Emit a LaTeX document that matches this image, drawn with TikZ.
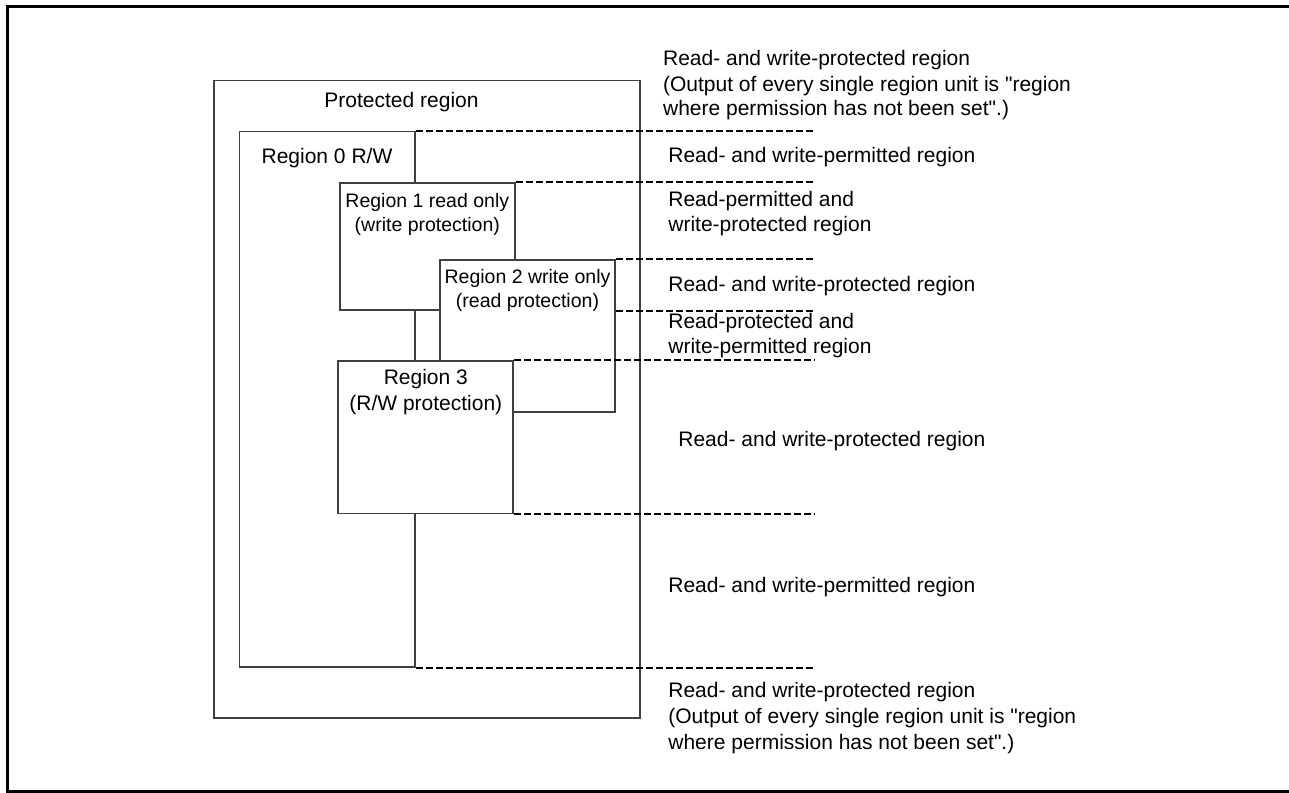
\documentclass[tikz,border=0pt]{standalone}
\usepackage{fontspec}
\setmainfont{Liberation Sans}
\begin{document}
\begin{tikzpicture}[x=0.5pt,y=-0.5pt,
  regbox/.style={draw=black!75, line width=0.8pt, fill=white, inner sep=0pt, rectangle},
  dashline/.style={draw=black, line width=1pt, dash pattern=on 3.5pt off 1.5pt},
  rtxt/.style={inner sep=0pt, font=\fontsize{10.5pt}{12.5pt}\selectfont, align=left, anchor=base west},
  btxt/.style={inner sep=0pt, font=\fontsize{10.5pt}{13pt}\selectfont, align=center, anchor=base},
  stxt/.style={inner sep=0pt, font=\fontsize{9.75pt}{12pt}\selectfont, align=center, anchor=base}]
\useasboundingbox (0,0) rectangle (1289,792);
\clip (0,0) rectangle (1289,792);
% outer frame
\draw[line width=1.5pt] (1295,6.5) -- (7.5,6.5) -- (7.5,791) -- (1295,791);
% boxes
\node[regbox, minimum width=213pt, minimum height=318.75pt] (prot) at (427,399.25) {};
\node[regbox, minimum width=87.75pt, minimum height=267.75pt] (r0) at (327.25,399.25) {};
\node[regbox, minimum width=87.5pt, minimum height=63.5pt] (r1) at (427.5,246.5) {};
\node[regbox, minimum width=87.5pt, minimum height=76pt] (r2) at (527.5,336) {};
\node[regbox, minimum width=87.5pt, minimum height=76.25pt] (r3) at (425.5,437.25) {};
% box labels (base = baseline of last line)
\node[btxt] (tprot) at (401.5,107.5) {Protected region};
\node[btxt] (tr0) at (327,163) {Region 0 R/W};
\node[stxt] (tr1) at (427.3,231.3) {Region 1 read only\\(write protection)};
\node[stxt] (tr2) at (527.5,307.3) {Region 2 write only\\(read protection)};
\node[btxt] (tr3) at (425.8,410.3) {Region 3\\(R/W protection)};
% dashed boundaries
\coordinate (xr) at (815,0);
\draw[dashline] (r0.north east) -- (r0.north east -| xr);
\draw[dashline] (r1.north east) -- (r1.north east -| xr);
\draw[dashline] (r2.north east) -- (r2.north east -| xr);
\draw[dashline] (r2.east |- r1.south) -- (r1.south -| xr);
\draw[dashline] (r3.north east) -- (r3.north east -| xr);
\draw[dashline] (r3.south east) -- (r3.south east -| xr);
\draw[dashline] (r0.south east) -- (r0.south east -| xr);
% right-hand descriptions
\node[rtxt] (d1) at (662.7,116) {Read- and write-protected region\\(Output of every single region unit is \textquotedbl region\\where permission has not been set\textquotedbl.)};
\node[rtxt] (d2) at (668,162.7) {Read- and write-permitted region};
\node[rtxt] (d3) at (668,231.7) {Read-permitted and\\write-protected region};
\node[rtxt] (d4) at (668,291.7) {Read- and write-protected region};
\node[rtxt] (d5) at (668,353.3) {Read-protected and\\write-permitted region};
\node[rtxt] (d6) at (678,446) {Read- and write-protected region};
\node[rtxt] (d7) at (668,592.7) {Read- and write-permitted region};
\node[rtxt, font=\fontsize{10.5pt}{13pt}\selectfont] (d8) at (668,749.7) {Read- and write-protected region\\(Output of every single region unit is \textquotedbl region\\where permission has not been set\textquotedbl.)};
\end{tikzpicture}
\end{document}
